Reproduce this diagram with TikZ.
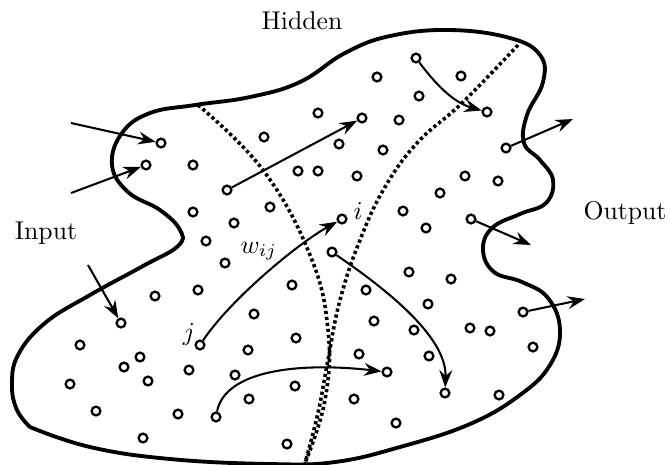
\documentclass[tikz,border=0pt]{standalone}
\usetikzlibrary{arrows.meta}
\begin{document}
\begin{tikzpicture}[x=0.389pt,y=-0.389pt,
  neuron/.style={circle,draw,line width=0.9pt,inner sep=0pt,minimum size=3.4pt,fill=white},
  conn/.style={line width=0.8pt,-{Stealth[length=6.8pt,width=5pt,inset=2.3pt]}},
  border/.style={line width=1.5pt,line join=round},
  sep/.style={line width=1.4pt,dash pattern=on 1.25pt off 1.1pt},
  lbl/.style={font=\fontsize{10}{12}\selectfont,inner sep=0pt}]
\useasboundingbox (0,0) rectangle (670,464);

% outline
\draw[border] plot[smooth,tension=0.7] coordinates {
 (30,427) (90,447) (170,459) (270,464) (335,462) (400,447) (470,424) (520,395)
 (550,365) (560,330) (548,298) (522,282) (494,272) (483,250) (492,228) (520,214)
 (546,203) (553,180) (540,160) (524,143) (527,115) (543,82) (540,55) (510,38)
 (450,30) (390,36) (345,53) (300,82) (250,97) (195,105) (150,113) (122,133)
 (112,165) (128,192) (160,210) (180,230) (178,246) (143,266) (90,295) (45,323)
 (18,355) (12,385) (17,410) (30,427)};

% dotted separators
\draw[sep] plot[smooth,tension=0.7] coordinates {
 (198,105) (263,170) (310,255) (328,330) (325,400) (305,463)};
\draw[sep] plot[smooth,tension=0.7] coordinates {
 (518,45) (462,103) (418,142) (385,187) (360,240) (340,300) (328,360) (318,413) (305,463)};

% neurons
\foreach \n/\x/\y in {
 1/416/58, 2/377/77, 3/461/76, 4/419/96, 5/487/112, 6/318/113, 7/264/137,
 8/161/143, 9/146/165, 10/193/165, 11/298/171, 12/318/171, 13/227/190,
 14/362/118, 15/399/120, 16/339/144, 17/383/150, 18/506/148, 19/357/176,
 20/465/176, 21/498/181, 22/440/193, 23/193/212, 24/270/207, 25/234/223,
 26/342/219, 27/403/211, 28/471/219, 29/426/228, 30/206/241, 31/225/263,
 32/155/296, 33/198/290, 34/292/285, 35/121/323, 36/254/314, 37/80/345,
 38/200/345, 39/296/338, 40/140/357, 41/124/367, 42/248/350, 43/148/381,
 44/70/384, 45/189/370, 46/235/375, 47/295/386, 48/249/399, 49/96/411,
 50/178/414, 51/216/417, 52/143/438, 53/287/444, 54/332/252, 55/409/272,
 56/451/279, 57/366/290, 58/428/304, 59/374/321, 60/414/330, 61/470/328,
 62/490/331, 63/523/312, 64/533/347, 65/359/354, 66/429/356, 67/387/372,
 68/445/393, 69/354/399, 70/499/395, 71/396/423}
 \node[neuron] (c\n) at (\x,\y) {};

% free ends of input / output connectors
\coordinate (in1) at (71,123);
\coordinate (in2) at (71,193);
\coordinate (in3) at (88,265);
\coordinate (out1) at (573,119);
\coordinate (out2) at (531,245);
\coordinate (out3) at (585,299);

% inputs
\draw[conn] (in1) -- (c8);
\draw[conn] (in2) -- (c9);
\draw[conn] (in3) -- (c35);
% outputs
\draw[conn] (c18) -- (out1);
\draw[conn] (c28) -- (out2);
\draw[conn] (c63) -- (out3);
% internal
\draw[conn] (c1) .. controls +(18,24) and +(-35,-10) .. (c5);
\draw[conn] (c13) -- (c14);
\draw[conn] (c38) .. controls +(30,-45) and +(-45,25) .. (c26);
\draw[conn] (c51) .. controls +(9,-47) and +(-87,-10) .. (c67);
\draw[conn] (c54) .. controls +(48,33) and +(2,-58) .. (c68);

% labels
\node[lbl,anchor=base] (hid) at (302,29) {Hidden};
\node[lbl,anchor=base] (inp) at (46,239) {Input};
\node[lbl,anchor=base] (outp) at (625,219) {Output};
\node[lbl,anchor=base west] (li) at (353,219) {$i$};
\node[lbl,anchor=base] (lj) at (189,340) {$j$};
\node[lbl,anchor=base west] (lw) at (240,253) {$w_{ij}$};
\end{tikzpicture}
\end{document}
